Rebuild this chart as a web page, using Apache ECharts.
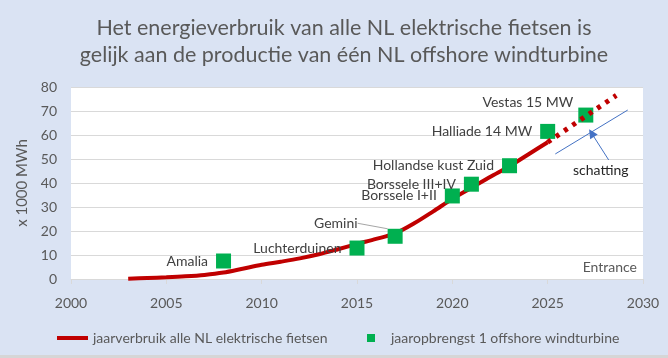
<!DOCTYPE html>
<html><head><meta charset="utf-8">
<script src="https://cdn.jsdelivr.net/npm/echarts@6/dist/echarts.min.js"></script>
<style>html,body{margin:0;padding:0;background:#d6d6d6;} #c{width:668px;height:355px;}</style>
</head><body><div id="c"></div>
<script>
// --- data ---
const usageYears  = [2003,2004,2005,2006,2007,2008,2009,2010,2011,2012,2013,2014,2015,2016,2017,2018,2019,2020,2021,2022,2023,2024,2025];
const usageValues = [0.1,0.4,0.7,1.1,1.7,2.7,4.3,5.9,7.2,8.6,10.3,12.4,14.6,16.7,19.0,23.2,28.2,33.4,38.0,42.6,47.0,52.0,57.0];
const projectionStart = [2025, 57];
const projectionEnd   = [2028.6, 76.5];
const turbineNames  = ['Amalia','Luchterduinen','Gemini','Borssele I+II','Borssele III+IV','Hollandse kust Zuid','Halliade 14 MW','Vestas 15 MW'];
const turbineYears  = [2008,2015,2017,2020,2021,2023,2025,2027];
const turbineValues = [7.5,12.9,17.8,34.6,39.5,47.2,61.5,68.3];
const estimateLine  = [[2025.4, 52.1],[2029.2, 70.4]];
const estimateArrow = [[2028.2, 49.6],[2027.3, 60.8]];
const xTickMin = 2000, xTickMax = 2030, xTickStep = 5;
const yTickMin = 0, yTickMax = 80, yTickStep = 10;
const seriesNames = ['jaarverbruik alle NL elektrische fietsen','jaaropbrengst 1 offshore windturbine'];
const titleLines = ['Het energieverbruik van alle NL elektrische fietsen is','gelijk aan de productie van één NL offshore windturbine'];
const yAxisName = 'x 1000 MWh';

const FONT = 'Lato, "Open Sans", sans-serif';
const GREY = '#595959';
const chart = echarts.init(document.getElementById('c'));
chart.setOption({
  backgroundColor: '#DAE3F3',
  animation: false,
  textStyle: {fontFamily: FONT},
  legend: [{
    data: [{name: seriesNames[0], icon: 'rect'}], left: 57, top: 331, padding: 0, itemWidth: 31, itemHeight: 4,
    textStyle: {fontFamily: FONT, fontSize: 14, color: GREY}
  },{
    data: [{name: seriesNames[1], icon: 'rect'}], left: 367, top: 331, padding: 0, itemWidth: 8, itemHeight: 8,
    textStyle: {fontFamily: FONT, fontSize: 14, color: GREY, padding: [0,0,0,11]}
  }],
  grid: {left: 71, right: 25, top: 87, bottom: 76, show: true, backgroundColor: '#ffffff', borderWidth: 0},
  xAxis: {
    type: 'value', min: xTickMin, max: xTickMax, interval: xTickStep,
    axisLine: {show: true, lineStyle: {color: '#D9D9D9'}},
    axisTick: {show: true, length: 5, lineStyle: {color: '#D9D9D9'}},
    splitLine: {show: false},
    axisLabel: {color: GREY, fontSize: 14, margin: 17, fontFamily: FONT, formatter: v => String(v)}
  },
  yAxis: {
    type: 'value', min: yTickMin, max: yTickMax, interval: yTickStep,
    name: yAxisName, nameLocation: 'middle', nameGap: 40, nameRotate: 90,
    nameTextStyle: {color: GREY, fontSize: 15, fontFamily: FONT},
    axisLine: {show: false}, axisTick: {show: false},
    splitLine: {lineStyle: {color: '#D9D9D9'}},
    axisLabel: {color: GREY, fontSize: 14, margin: 14, fontFamily: FONT}
  },
  graphic: [
    {type: 'text', x: 344, y: 15, style: {text: titleLines.join('\n'), align: 'center', verticalAlign: 'top', fill: GREY, font: '21.5px ' + FONT, lineHeight: 27}},
    {type: 'text', right: 31, top: 260, style: {text: 'Entrance', fill: GREY, font: '14px ' + FONT}},
    {type: 'text', left: 573, top: 163, style: {text: 'schatting', fill: '#262626', font: '14px ' + FONT}}
  ],
  series: [
    {
      name: seriesNames[0], type: 'line', smooth: 0.3, showSymbol: false, symbol: 'none',
      data: usageYears.map((y, i) => [y, usageValues[i]]),
      lineStyle: {color: '#C00000', width: 4}, itemStyle: {color: '#C00000'}, z: 2,
      markLine: {
        silent: true, symbol: ['none', 'triangle'], symbolSize: [0, 16],
        label: {show: false},
        lineStyle: {color: '#C00000', width: 5, type: [4, 6], cap: 'butt'},
        data: [[{coord: projectionStart}, {coord: projectionEnd}]]
      }
    },
    {
      name: seriesNames[1], type: 'scatter', symbol: 'rect', symbolSize: 15, z: 3,
      itemStyle: {color: '#00B050', opacity: 1},
      data: turbineYears.map((y, i) => {
        const d = {name: turbineNames[i], value: [y, turbineValues[i]]};
        if (i === 2) d.labelLine = {show: true, lineStyle: {color: '#A6A6A6', width: 1}};
        return d;
      }),
      label: {show: true, position: 'left', distance: 8, formatter: '{b}', color: '#404040', fontSize: 14, fontFamily: FONT},
      labelLayout: function (p) {
        if (p.dataIndex === 2) return {dx: -22, dy: -13};
        if (p.dataIndex === 7) return {dx: 3, dy: -13};
      },
      emphasis: {disabled: true}
    },
    {
      name: 'schatting', type: 'line', data: [], silent: true,
      markLine: {
        silent: true, label: {show: false},
        lineStyle: {color: '#4472C4', width: 1, type: 'solid'},
        data: [
          [{coord: estimateLine[0], symbol: 'none'}, {coord: estimateLine[1], symbol: 'none'}],
          [{coord: estimateArrow[0], symbol: 'none'}, {coord: estimateArrow[1], symbol: 'triangle', symbolSize: 9}]
        ]
      }
    }
  ]
});
</script></body></html>
